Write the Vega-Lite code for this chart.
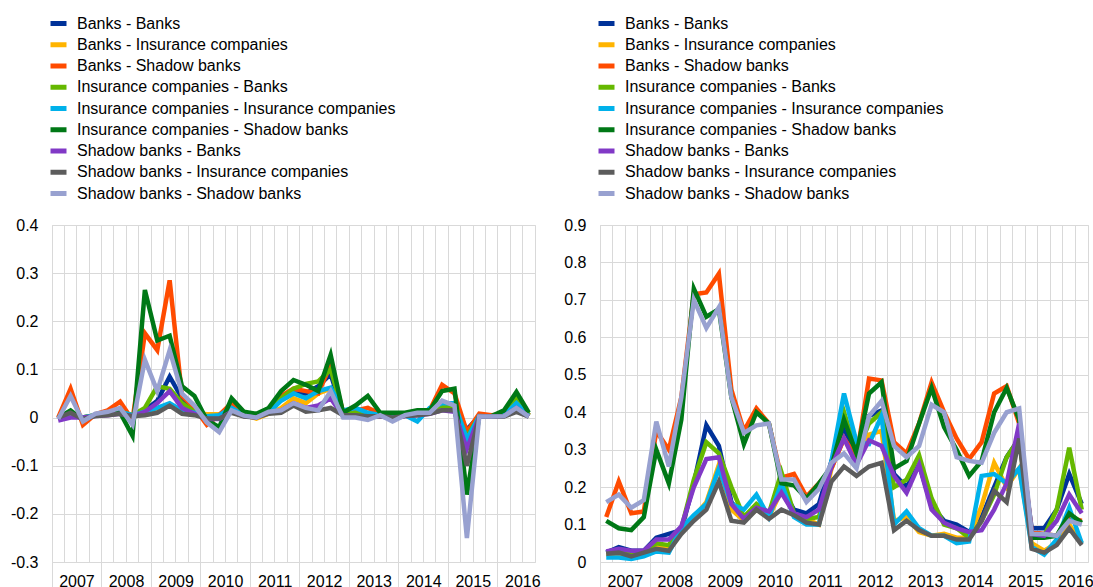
{
"$schema": "https://vega.github.io/schema/vega-lite/v6.json",
"padding": {"left": 9, "top": 12, "right": 0, "bottom": 0},
"spacing": 22,
"background": "white",
"config": {"view": {"stroke": "#d9d9d9", "strokeWidth": 1}, "font": "Liberation Sans"},
"resolve": {"scale": {"x": "independent", "y": "independent", "color": "independent"}, "legend": {"color": "independent"}},
"datasets": {
"left": [
{"q":"2007 Q1","BB":0,"BI":0,"BS":0,"IB":0,"II":0,"IS":0,"SB":-0.006,"SI":0,"SS":-0.003},
{"q":"2007 Q2","BB":0.01,"BI":0.01,"BS":0.06,"IB":0.01,"II":0.01,"IS":0.015,"SB":0,"SI":0.01,"SS":0.045},
{"q":"2007 Q3","BB":0,"BI":0,"BS":-0.015,"IB":0,"II":0,"IS":-0.005,"SB":0,"SI":-0.003,"SS":-0.008},
{"q":"2007 Q4","BB":0.005,"BI":0.005,"BS":0.007,"IB":0.005,"II":0.005,"IS":0.005,"SB":0.003,"SI":0.003,"SS":0.008},
{"q":"2008 Q1","BB":0.01,"BI":0.01,"BS":0.015,"IB":0.01,"II":0.01,"IS":0.01,"SB":0.005,"SI":0.005,"SS":0.012},
{"q":"2008 Q2","BB":0.012,"BI":0.012,"BS":0.033,"IB":0.012,"II":0.012,"IS":0.01,"SB":0.008,"SI":0.008,"SS":0.02},
{"q":"2008 Q3","BB":0.005,"BI":0.005,"BS":-0.005,"IB":0.005,"II":0.005,"IS":-0.038,"SB":0.003,"SI":0.003,"SS":-0.015},
{"q":"2008 Q4","BB":0.015,"BI":0.01,"BS":0.175,"IB":0.02,"II":0.012,"IS":0.265,"SB":0.012,"SI":0.005,"SS":0.12},
{"q":"2009 Q1","BB":0.035,"BI":0.015,"BS":0.14,"IB":0.065,"II":0.02,"IS":0.16,"SB":0.03,"SI":0.01,"SS":0.055},
{"q":"2009 Q2","BB":0.085,"BI":0.025,"BS":0.285,"IB":0.06,"II":0.03,"IS":0.17,"SB":0.055,"SI":0.025,"SS":0.14},
{"q":"2009 Q3","BB":0.04,"BI":0.015,"BS":0.045,"IB":0.03,"II":0.015,"IS":0.065,"SB":0.02,"SI":0.008,"SS":0.05},
{"q":"2009 Q4","BB":0.01,"BI":0.01,"BS":0.02,"IB":0.012,"II":0.01,"IS":0.045,"SB":0.008,"SI":0.005,"SS":0.025},
{"q":"2010 Q1","BB":0,"BI":0.007,"BS":-0.015,"IB":-0.003,"II":0.003,"IS":-0.005,"SB":-0.003,"SI":-0.002,"SS":-0.01},
{"q":"2010 Q2","BB":0,"BI":0.007,"BS":0.005,"IB":0,"II":0.005,"IS":-0.02,"SB":-0.003,"SI":-0.002,"SS":-0.03},
{"q":"2010 Q3","BB":0.015,"BI":0.015,"BS":0.03,"IB":0.015,"II":0.02,"IS":0.04,"SB":0.012,"SI":0.01,"SS":0.015},
{"q":"2010 Q4","BB":0.005,"BI":0.005,"BS":0.008,"IB":0.005,"II":0.005,"IS":0.012,"SB":0.003,"SI":0.002,"SS":0.004},
{"q":"2011 Q1","BB":0,"BI":-0.002,"BS":0.003,"IB":0.002,"II":0.002,"IS":0.008,"SB":0,"SI":0,"SS":0},
{"q":"2011 Q2","BB":0.01,"BI":0.008,"BS":0.015,"IB":0.012,"II":0.01,"IS":0.02,"SB":0.01,"SI":0.008,"SS":0.012},
{"q":"2011 Q3","BB":0.04,"BI":0.02,"BS":0.045,"IB":0.04,"II":0.035,"IS":0.055,"SB":0.015,"SI":0.01,"SS":0.015},
{"q":"2011 Q4","BB":0.05,"BI":0.04,"BS":0.06,"IB":0.06,"II":0.05,"IS":0.078,"SB":0.03,"SI":0.025,"SS":0.03},
{"q":"2012 Q1","BB":0.05,"BI":0.03,"BS":0.055,"IB":0.07,"II":0.04,"IS":0.068,"SB":0.02,"SI":0.012,"SS":0.02},
{"q":"2012 Q2","BB":0.065,"BI":0.05,"BS":0.05,"IB":0.075,"II":0.055,"IS":0.055,"SB":0.025,"SI":0.015,"SS":0.015},
{"q":"2012 Q3","BB":0.09,"BI":0.06,"BS":0.11,"IB":0.1,"II":0.062,"IS":0.13,"SB":0.04,"SI":0.02,"SS":0.055},
{"q":"2012 Q4","BB":0.01,"BI":0.008,"BS":0.012,"IB":0.01,"II":0.015,"IS":0.01,"SB":0.003,"SI":0.005,"SS":0},
{"q":"2013 Q1","BB":0.01,"BI":0.008,"BS":0.015,"IB":0.01,"II":0.02,"IS":0.025,"SB":0.003,"SI":0.005,"SS":0},
{"q":"2013 Q2","BB":0.005,"BI":0.005,"BS":0.02,"IB":0.005,"II":0.01,"IS":0.045,"SB":0,"SI":0.003,"SS":-0.005},
{"q":"2013 Q3","BB":0.008,"BI":0.005,"BS":0.008,"IB":0.005,"II":0.005,"IS":0.01,"SB":0.003,"SI":0.003,"SS":0.005},
{"q":"2013 Q4","BB":0.003,"BI":0.002,"BS":0.005,"IB":0.005,"II":0.002,"IS":0.01,"SB":-0.003,"SI":0,"SS":-0.008},
{"q":"2014 Q1","BB":0.005,"BI":0.005,"BS":0.008,"IB":0.008,"II":0.005,"IS":0.01,"SB":0.003,"SI":0.003,"SS":0.005},
{"q":"2014 Q2","BB":0.01,"BI":0.008,"BS":0.01,"IB":0.01,"II":-0.008,"IS":0.015,"SB":0.005,"SI":0.005,"SS":0.01},
{"q":"2014 Q3","BB":0.012,"BI":0.01,"BS":0.015,"IB":0.012,"II":0.02,"IS":0.015,"SB":0.008,"SI":0.008,"SS":0.01},
{"q":"2014 Q4","BB":0.025,"BI":0.025,"BS":0.068,"IB":0.025,"II":0.03,"IS":0.055,"SB":0.015,"SI":0.015,"SS":0.035},
{"q":"2015 Q1","BB":0.02,"BI":0.02,"BS":0.05,"IB":0.02,"II":0.03,"IS":0.06,"SB":0.012,"SI":0.015,"SS":0.025},
{"q":"2015 Q2","BB":-0.025,"BI":-0.035,"BS":-0.03,"IB":-0.04,"II":-0.045,"IS":-0.16,"SB":-0.065,"SI":-0.1,"SS":-0.25},
{"q":"2015 Q3","BB":0.003,"BI":0.003,"BS":0.008,"IB":0.003,"II":0.003,"IS":0.003,"SB":0.002,"SI":0.002,"SS":0.002},
{"q":"2015 Q4","BB":0.003,"BI":0.002,"BS":0.005,"IB":0.003,"II":0.002,"IS":0.003,"SB":0.002,"SI":0.002,"SS":0.002},
{"q":"2016 Q1","BB":0.005,"BI":0.005,"BS":0.008,"IB":0.008,"II":0.005,"IS":0.015,"SB":0.003,"SI":0.002,"SS":0.003},
{"q":"2016 Q2","BB":0.03,"BI":0.035,"BS":0.04,"IB":0.04,"II":0.03,"IS":0.053,"SB":0.02,"SI":0.012,"SS":0.02},
{"q":"2016 Q3","BB":0.005,"BI":0.003,"BS":0.005,"IB":0.005,"II":0.003,"IS":0.01,"SB":0.002,"SI":0.002,"SS":0.002}
],
"right": [
{"q":"2007 Q1","BB":0.025,"BI":0.02,"BS":0.12,"IB":0.025,"II":0.012,"IS":0.11,"SB":0.028,"SI":0.022,"SS":0.16},
{"q":"2007 Q2","BB":0.04,"BI":0.02,"BS":0.215,"IB":0.03,"II":0.012,"IS":0.09,"SB":0.035,"SI":0.025,"SS":0.18},
{"q":"2007 Q3","BB":0.03,"BI":0.015,"BS":0.13,"IB":0.025,"II":0.008,"IS":0.085,"SB":0.03,"SI":0.015,"SS":0.145},
{"q":"2007 Q4","BB":0.03,"BI":0.02,"BS":0.135,"IB":0.028,"II":0.015,"IS":0.12,"SB":0.03,"SI":0.025,"SS":0.165},
{"q":"2008 Q1","BB":0.065,"BI":0.04,"BS":0.35,"IB":0.05,"II":0.028,"IS":0.3,"SB":0.06,"SI":0.035,"SS":0.375},
{"q":"2008 Q2","BB":0.075,"BI":0.035,"BS":0.3,"IB":0.045,"II":0.025,"IS":0.21,"SB":0.06,"SI":0.03,"SS":0.255},
{"q":"2008 Q3","BB":0.085,"BI":0.085,"BS":0.44,"IB":0.09,"II":0.09,"IS":0.38,"SB":0.095,"SI":0.075,"SS":0.44},
{"q":"2008 Q4","BB":0.21,"BI":0.12,"BS":0.715,"IB":0.22,"II":0.125,"IS":0.73,"SB":0.2,"SI":0.11,"SS":0.7},
{"q":"2009 Q1","BB":0.365,"BI":0.16,"BS":0.72,"IB":0.32,"II":0.155,"IS":0.655,"SB":0.275,"SI":0.14,"SS":0.625},
{"q":"2009 Q2","BB":0.31,"BI":0.26,"BS":0.77,"IB":0.29,"II":0.25,"IS":0.675,"SB":0.28,"SI":0.215,"SS":0.68},
{"q":"2009 Q3","BB":0.16,"BI":0.14,"BS":0.46,"IB":0.2,"II":0.155,"IS":0.44,"SB":0.155,"SI":0.11,"SS":0.44},
{"q":"2009 Q4","BB":0.12,"BI":0.11,"BS":0.35,"IB":0.12,"II":0.14,"IS":0.315,"SB":0.115,"SI":0.105,"SS":0.345},
{"q":"2010 Q1","BB":0.15,"BI":0.14,"BS":0.41,"IB":0.155,"II":0.18,"IS":0.4,"SB":0.145,"SI":0.14,"SS":0.365},
{"q":"2010 Q2","BB":0.13,"BI":0.12,"BS":0.37,"IB":0.13,"II":0.12,"IS":0.37,"SB":0.135,"SI":0.115,"SS":0.37},
{"q":"2010 Q3","BB":0.2,"BI":0.19,"BS":0.225,"IB":0.24,"II":0.21,"IS":0.21,"SB":0.185,"SI":0.14,"SS":0.22},
{"q":"2010 Q4","BB":0.14,"BI":0.13,"BS":0.235,"IB":0.13,"II":0.12,"IS":0.205,"SB":0.13,"SI":0.125,"SS":0.22},
{"q":"2011 Q1","BB":0.13,"BI":0.115,"BS":0.175,"IB":0.115,"II":0.1,"IS":0.17,"SB":0.12,"SI":0.105,"SS":0.16},
{"q":"2011 Q2","BB":0.155,"BI":0.1,"BS":0.21,"IB":0.12,"II":0.1,"IS":0.21,"SB":0.14,"SI":0.1,"SS":0.195},
{"q":"2011 Q3","BB":0.27,"BI":0.25,"BS":0.25,"IB":0.26,"II":0.27,"IS":0.255,"SB":0.255,"SI":0.215,"SS":0.265},
{"q":"2011 Q4","BB":0.35,"BI":0.33,"BS":0.33,"IB":0.4,"II":0.45,"IS":0.38,"SB":0.33,"SI":0.255,"SS":0.29},
{"q":"2012 Q1","BB":0.27,"BI":0.27,"BS":0.28,"IB":0.29,"II":0.32,"IS":0.29,"SB":0.26,"SI":0.23,"SS":0.25},
{"q":"2012 Q2","BB":0.39,"BI":0.34,"BS":0.49,"IB":0.37,"II":0.315,"IS":0.45,"SB":0.325,"SI":0.255,"SS":0.39},
{"q":"2012 Q3","BB":0.405,"BI":0.35,"BS":0.485,"IB":0.4,"II":0.39,"IS":0.48,"SB":0.31,"SI":0.265,"SS":0.43},
{"q":"2012 Q4","BB":0.235,"BI":0.11,"BS":0.32,"IB":0.2,"II":0.1,"IS":0.25,"SB":0.23,"SI":0.085,"SS":0.31},
{"q":"2013 Q1","BB":0.2,"BI":0.12,"BS":0.29,"IB":0.22,"II":0.135,"IS":0.27,"SB":0.185,"SI":0.11,"SS":0.28},
{"q":"2013 Q2","BB":0.26,"BI":0.08,"BS":0.37,"IB":0.285,"II":0.09,"IS":0.37,"SB":0.26,"SI":0.085,"SS":0.31},
{"q":"2013 Q3","BB":0.15,"BI":0.07,"BS":0.48,"IB":0.17,"II":0.07,"IS":0.465,"SB":0.14,"SI":0.07,"SS":0.42},
{"q":"2013 Q4","BB":0.11,"BI":0.075,"BS":0.4,"IB":0.1,"II":0.07,"IS":0.36,"SB":0.105,"SI":0.07,"SS":0.4},
{"q":"2014 Q1","BB":0.1,"BI":0.065,"BS":0.33,"IB":0.09,"II":0.05,"IS":0.3,"SB":0.09,"SI":0.06,"SS":0.28},
{"q":"2014 Q2","BB":0.08,"BI":0.065,"BS":0.275,"IB":0.065,"II":0.055,"IS":0.23,"SB":0.08,"SI":0.06,"SS":0.27},
{"q":"2014 Q3","BB":0.12,"BI":0.15,"BS":0.32,"IB":0.11,"II":0.23,"IS":0.27,"SB":0.085,"SI":0.11,"SS":0.265},
{"q":"2014 Q4","BB":0.2,"BI":0.265,"BS":0.45,"IB":0.18,"II":0.235,"IS":0.4,"SB":0.14,"SI":0.19,"SS":0.345},
{"q":"2015 Q1","BB":0.28,"BI":0.2,"BS":0.47,"IB":0.28,"II":0.21,"IS":0.465,"SB":0.21,"SI":0.16,"SS":0.4},
{"q":"2015 Q2","BB":0.33,"BI":0.25,"BS":0.37,"IB":0.33,"II":0.25,"IS":0.38,"SB":0.37,"SI":0.33,"SS":0.41},
{"q":"2015 Q3","BB":0.09,"BI":0.05,"BS":0.08,"IB":0.065,"II":0.04,"IS":0.065,"SB":0.075,"SI":0.035,"SS":0.075},
{"q":"2015 Q4","BB":0.09,"BI":0.03,"BS":0.075,"IB":0.07,"II":0.02,"IS":0.065,"SB":0.07,"SI":0.025,"SS":0.075},
{"q":"2016 Q1","BB":0.14,"BI":0.05,"BS":0.07,"IB":0.14,"II":0.06,"IS":0.07,"SB":0.11,"SI":0.045,"SS":0.07},
{"q":"2016 Q2","BB":0.235,"BI":0.1,"BS":0.12,"IB":0.305,"II":0.145,"IS":0.13,"SB":0.18,"SI":0.09,"SS":0.11},
{"q":"2016 Q3","BB":0.155,"BI":0.05,"BS":0.11,"IB":0.14,"II":0.05,"IS":0.105,"SB":0.13,"SI":0.045,"SS":0.1}
]
},
"hconcat": [
{
"width": 483, "height": 337,
"data": {"name": "left"},
"transform": [{"fold": ["BB","BI","BS","IB","II","IS","SB","SI","SS"], "as": ["series","value"]}],
"mark": {"type": "line", "strokeWidth": 4.5},
"encoding": {
"x": {"field": "q", "type": "ordinal", "sort": null, "bandPosition": 0.5, "scale": {"type": "band", "paddingInner": 0, "paddingOuter": 0},
 "axis": {"title": null, "bandPosition": 0, "domain": false, "grid": true, "gridColor": "#d9d9d9", "gridWidth": 1, "ticks": true, "tickSize": 26, "tickColor": "#d9d9d9", "tickWidth": 1,
  "tickOpacity": {"condition": {"test": "indexof(datum.value, 'Q1') >= 0", "value": 1}, "value": 0},
  "labelAngle": 0, "labelPadding": -15, "labelOffset": -6, "labelOverlap": false, "labelBound": false, "labelFlush": false,
  "labelExpr": "indexof(datum.value, 'Q3') >= 0 ? slice(datum.value, 0, 4) : ''",
  "labelFontSize": 16, "labelColor": "#000000", "labelFont": "Liberation Sans"}},
"y": {"field": "value", "type": "quantitative", "scale": {"domain": [-0.3, 0.4], "nice": false, "zero": false},
 "axis": {"title": null, "values": [-0.3,-0.2,-0.1,0,0.1,0.2,0.3,0.4], "domain": false, "ticks": false, "tickSize": 0, "grid": true, "gridColor": "#d9d9d9", "gridWidth": 1,
  "labelPadding": 14, "labelFontSize": 16, "labelColor": "#000000", "labelFont": "Liberation Sans",
  "labelExpr": "abs(datum.value) < 1e-9 ? '0' : (datum.value < 0 ? '-' : '') + format(abs(datum.value), '.1f')"}},
"color": {"field": "series", "type": "nominal",
 "scale": {"domain": ["BB","BI","BS","IB","II","IS","SB","SI","SS"], "range": ["#003299","#FFB400","#FF4B00","#65B800","#00B1EA","#007816","#8139C6","#5C5C5C","#98A1D0"]},
 "legend": {"title": null, "orient": "none", "legendX": -4, "legendY": -212, "direction": "vertical", "labelFontSize": 16, "labelFont": "Liberation Sans", "labelColor": "#000000", "labelLimit": 600,
  "symbolType": "stroke", "symbolSize": 256, "symbolStrokeWidth": 5, "rowPadding": 0.25, "labelOffset": 8,
  "labelExpr": "{'BB':'Banks - Banks','BI':'Banks - Insurance companies','BS':'Banks - Shadow banks','IB':'Insurance companies - Banks','II':'Insurance companies - Insurance companies','IS':'Insurance companies - Shadow banks','SB':'Shadow banks - Banks','SI':'Shadow banks - Insurance companies','SS':'Shadow banks - Shadow banks'}[datum.label]"}}
}
},
{
"width": 488, "height": 337,
"data": {"name": "right"},
"transform": [{"fold": ["BB","BI","BS","IB","II","IS","SB","SI","SS"], "as": ["series","value"]}],
"mark": {"type": "line", "strokeWidth": 4.5},
"encoding": {
"x": {"field": "q", "type": "ordinal", "sort": null, "bandPosition": 0.5, "scale": {"type": "band", "paddingInner": 0, "paddingOuter": 0},
 "axis": {"title": null, "bandPosition": 0, "domain": false, "grid": true, "gridColor": "#d9d9d9", "gridWidth": 1, "ticks": true, "tickSize": 26, "tickColor": "#d9d9d9", "tickWidth": 1,
  "tickOpacity": {"condition": {"test": "indexof(datum.value, 'Q1') >= 0", "value": 1}, "value": 0},
  "labelAngle": 0, "labelPadding": -15, "labelOffset": -6, "labelOverlap": false, "labelBound": false, "labelFlush": false,
  "labelExpr": "indexof(datum.value, 'Q3') >= 0 ? slice(datum.value, 0, 4) : ''",
  "labelFontSize": 16, "labelColor": "#000000", "labelFont": "Liberation Sans"}},
"y": {"field": "value", "type": "quantitative", "scale": {"domain": [0, 0.9], "nice": false, "zero": false},
 "axis": {"title": null, "values": [0,0.1,0.2,0.3,0.4,0.5,0.6,0.7,0.8,0.9], "domain": false, "ticks": false, "tickSize": 0, "grid": true, "gridColor": "#d9d9d9", "gridWidth": 1,
  "labelPadding": 14, "labelFontSize": 16, "labelColor": "#000000", "labelFont": "Liberation Sans",
  "labelExpr": "abs(datum.value) < 1e-9 ? '0' : format(datum.value, '.1f')"}},
"color": {"field": "series", "type": "nominal",
 "scale": {"domain": ["BB","BI","BS","IB","II","IS","SB","SI","SS"], "range": ["#003299","#FFB400","#FF4B00","#65B800","#00B1EA","#007816","#8139C6","#5C5C5C","#98A1D0"]},
 "legend": {"title": null, "orient": "none", "legendX": -4, "legendY": -212, "direction": "vertical", "labelFontSize": 16, "labelFont": "Liberation Sans", "labelColor": "#000000", "labelLimit": 600,
  "symbolType": "stroke", "symbolSize": 256, "symbolStrokeWidth": 5, "rowPadding": 0.25, "labelOffset": 8,
  "labelExpr": "{'BB':'Banks - Banks','BI':'Banks - Insurance companies','BS':'Banks - Shadow banks','IB':'Insurance companies - Banks','II':'Insurance companies - Insurance companies','IS':'Insurance companies - Shadow banks','SB':'Shadow banks - Banks','SI':'Shadow banks - Insurance companies','SS':'Shadow banks - Shadow banks'}[datum.label]"}}
}
}
]
}
